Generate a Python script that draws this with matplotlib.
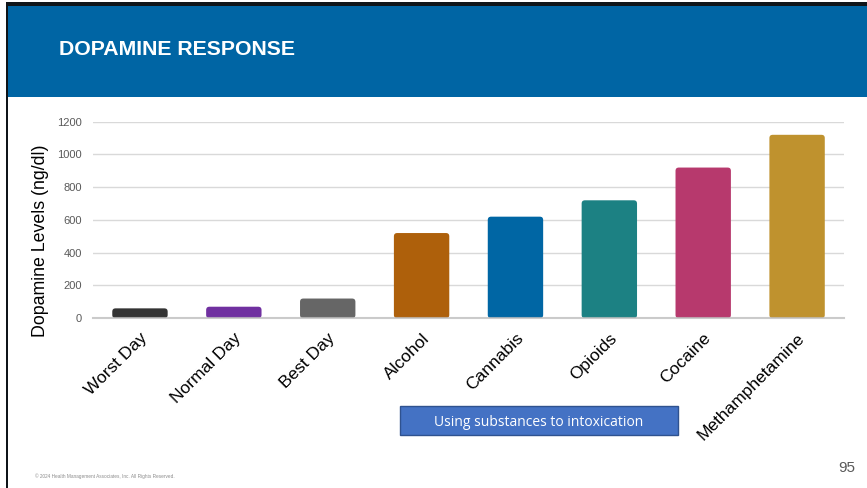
import matplotlib.pyplot as plt
from matplotlib.patches import Rectangle, FancyBboxPatch

# data
categories = ['Worst Day', 'Normal Day', 'Best Day', 'Alcohol', 'Cannabis',
              'Opioids', 'Cocaine', 'Methamphetamine']
levels = [60, 70, 120, 520, 620, 720, 920, 1120]
bar_colors = ['#333333', '#7030A0', '#666666', '#AE600B', '#0066A4',
              '#1C8183', '#B7396D', '#BF922E']
y_ticks = [0, 200, 400, 600, 800, 1000, 1200]

plt.rcParams['font.family'] = ['Liberation Sans', 'DejaVu Sans']

fig = plt.figure(figsize=(8.67, 4.88), dpi=100)
fig.patch.set_facecolor('white')

# slide frame and header band
fig.patches.append(Rectangle((0.0065, 0.0), 1, 0.995, transform=fig.transFigure,
                             facecolor='#0F1419', edgecolor='none', zorder=-10))
fig.patches.append(Rectangle((0.0088, 0.0), 1, 0.988, transform=fig.transFigure,
                             facecolor='white', edgecolor='none', zorder=-9))
fig.patches.append(Rectangle((0.0088, 0.801), 1, 0.187, transform=fig.transFigure,
                             facecolor='#0065A4', edgecolor='none', zorder=-8))
fig.text(0.068, 0.898, 'DOPAMINE RESPONSE', color='white', fontsize=15.3,
         fontweight='bold', va='center', ha='left', zorder=2)

ax = fig.add_axes([0.1073, 0.348, 0.8662, 0.4026])
ax.set_facecolor('none')
x = range(len(categories))
bars = ax.bar(x, levels, width=0.59, color=bar_colors)

# swap plain bars for ones with rounded corners
for b, c in zip(bars, bar_colors):
    b.set_visible(False)
    rp = FancyBboxPatch((b.get_x(), 0), b.get_width(), b.get_height(),
                        boxstyle='round,pad=0,rounding_size=0.035',
                        mutation_aspect=570, facecolor=c, edgecolor='none',
                        zorder=2)
    ax.add_patch(rp)

ax.set_xlim(-0.5, len(categories) - 0.5)
ax.set_ylim(0, 1200)
ax.set_yticks(y_ticks)
ax.yaxis.grid(True, color='#D9D9D9', lw=1)
ax.set_axisbelow(True)
ax.axhline(0, color='#BFBFBF', lw=1.5, alpha=0.8, zorder=3, clip_on=False)
for s in ax.spines.values():
    s.set_visible(False)
ax.tick_params(axis='both', length=0)
ax.tick_params(axis='y', labelsize=8, labelcolor='#595959', pad=8)
ax.set_xticks(list(x))
ax.set_xticklabels(categories, rotation=45, ha='right', rotation_mode='anchor',
                   fontsize=12.5)
ax.tick_params(axis='x', pad=9)
ax.set_ylabel('Dopamine Levels (ng/dl)', fontsize=12.75)
ax.yaxis.set_label_coords(-0.058, 0.396)

# text box under the substance bars
fig.patches.append(Rectangle((400 / 867, 1 - 435 / 488), 278 / 867, 29 / 488,
                             transform=fig.transFigure, facecolor='#4472C4',
                             edgecolor='#2F528F', lw=1, zorder=3))
fig.text(539 / 867, 1 - 422 / 488, 'Using substances to intoxication',
         color='white', fontsize=10, ha='center', va='center',
         family=['Open Sans', 'DejaVu Sans'], zorder=4)

# footer
fig.text(0.04, 0.0246, '\u00a9 2024 Health Management Associates, Inc. All Rights Reserved.',
         fontsize=3.4, color='#8C8C8C', ha='left', va='center')
fig.text(0.977, 0.041, '95', fontsize=11, color='#595959', ha='center', va='center')

fig.savefig('out.png', dpi=100)
